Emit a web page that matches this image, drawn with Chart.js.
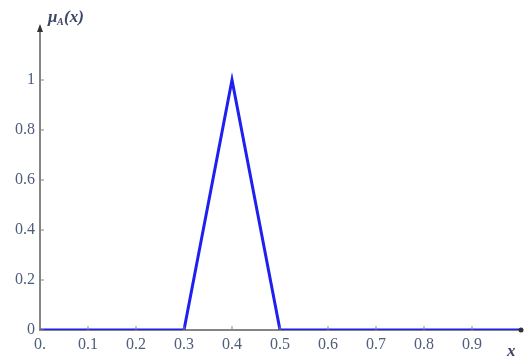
<!DOCTYPE html>
<html><head><meta charset="utf-8">
<script src="https://cdn.jsdelivr.net/npm/chart.js@4/dist/chart.umd.min.js"></script>
<style>html,body{margin:0;padding:0;background:#fff}#w{width:531px;height:358px}</style>
</head><body><div id="w"><canvas id="c" width="531" height="358"></canvas></div>
<script>
const xValues = [0, 0.3, 0.4, 0.5, 1.0];
const muValues = [0, 0, 1, 0, 0];
const xTickLabels = ['0.', '0.1', '0.2', '0.3', '0.4', '0.5', '0.6', '0.7', '0.8', '0.9'];
const yTickLabels = ['0', '0.2', '0.4', '0.6', '0.8', '1'];
const xTickValues = [0, 0.1, 0.2, 0.3, 0.4, 0.5, 0.6, 0.7, 0.8, 0.9];
const yTickValues = [0, 0.2, 0.4, 0.6, 0.8, 1];

const labelColor = '#4d5d7a';
const axisColor = '#858585';
const serif = "Times New Roman";

const deco = {
  id: 'deco',
  afterDatasetsDraw(chart) {
    const ctx = chart.ctx, xs = chart.scales.x, ys = chart.scales.y, a = chart.chartArea;
    ctx.save();
    ctx.strokeStyle = axisColor; ctx.lineWidth = 1;
    xTickValues.forEach(v => { const p = xs.getPixelForValue(v); ctx.beginPath(); ctx.moveTo(p, a.bottom); ctx.lineTo(p, a.bottom - 4); ctx.stroke(); });
    yTickValues.forEach(v => { const p = ys.getPixelForValue(v); ctx.beginPath(); ctx.moveTo(a.left, p); ctx.lineTo(a.left + 4, p); ctx.stroke(); });
    ctx.fillStyle = '#333';
    ctx.beginPath(); ctx.moveTo(a.left, a.top - 3); ctx.lineTo(a.left - 3, a.top + 5); ctx.lineTo(a.left + 3, a.top + 5); ctx.closePath(); ctx.fill();
    ctx.beginPath(); ctx.arc(a.right + 1, a.bottom, 2.5, 0, Math.PI * 2); ctx.fill();
    ctx.fillStyle = '#3a4766';
    ctx.font = 'italic bold 17px ' + serif;
    ctx.textBaseline = 'alphabetic'; ctx.textAlign = 'left';
    ctx.fillText('x', a.right - 13, chart.height - 2);
    ctx.fillText('\u03BC', a.left + 8, a.top - 5);
    ctx.font = 'italic bold 10px ' + serif;
    ctx.fillText('A', a.left + 17, a.top - 2);
    ctx.font = 'italic bold 17px ' + serif;
    ctx.fillText('(x)', a.left + 24, a.top - 5);
    ctx.restore();
  }
};

Chart.defaults.font.family = serif;
new Chart(document.getElementById('c'), {
  type: 'line',
  data: {
    datasets: [{
      data: xValues.map((x, i) => ({ x: x, y: muValues[i] })),
      borderColor: '#1f1fef',
      borderWidth: 3,
      pointRadius: 0,
      tension: 0,
      fill: false
    }]
  },
  options: {
    responsive: false,
    animation: false,
    layout: { padding: { left: 0, right: 11, top: 27, bottom: 0 } },
    plugins: { legend: { display: false }, tooltip: { enabled: false } },
    scales: {
      x: {
        type: 'linear', min: 0, max: 1,
        afterFit: s => { s.height = 28; },
        afterBuildTicks: s => { s.ticks = xTickValues.map(v => ({ value: v })); },
        grid: { display: false, drawTicks: false },
        border: { display: true, color: axisColor, width: 2 },
        ticks: {
          padding: 5, color: labelColor, maxRotation: 0, autoSkip: false,
          font: { family: serif, size: 16 },
          callback: (v, i) => xTickLabels[i]
        }
      },
      y: {
        type: 'linear', min: 0, max: 1.212,
        afterFit: s => { s.width = 40; },
        afterBuildTicks: s => { s.ticks = yTickValues.map(v => ({ value: v })); },
        grid: { display: false, drawTicks: false },
        border: { display: true, color: axisColor, width: 2 },
        ticks: {
          padding: 5, color: labelColor, autoSkip: false,
          font: { family: serif, size: 16 },
          callback: (v, i) => yTickLabels[i]
        }
      }
    }
  },
  plugins: [deco]
});
</script>
</body></html>
